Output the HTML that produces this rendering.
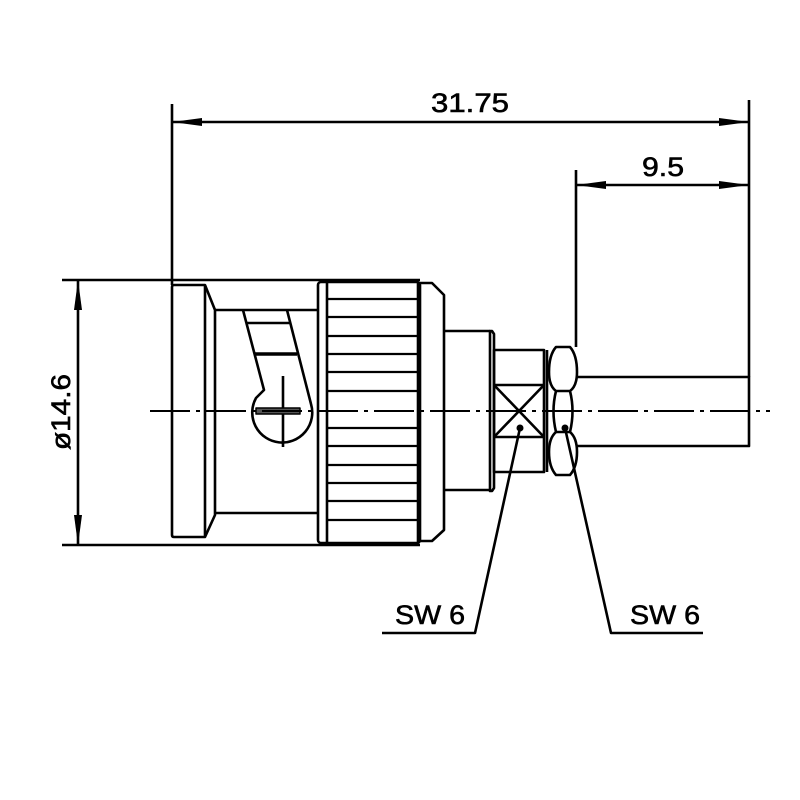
<!DOCTYPE html>
<html><head><meta charset="utf-8"><style>body{margin:0;background:#fff}svg{display:block}</style></head>
<body>
<svg width="800" height="800" viewBox="0 0 800 800" xmlns="http://www.w3.org/2000/svg">
<g stroke="#000" stroke-width="2.6" fill="none" stroke-linejoin="round">
<line x1="172" y1="104" x2="172" y2="285"/>
<line x1="749" y1="100" x2="749" y2="377"/>
<line x1="172" y1="122" x2="749" y2="122"/>
<line x1="576" y1="170" x2="576" y2="347"/>
<line x1="576" y1="185" x2="749" y2="185"/>
<line x1="62" y1="280" x2="420" y2="280"/>
<line x1="62" y1="545" x2="420" y2="545"/>
<line x1="78" y1="280" x2="78" y2="545"/>
<path d="M174 285 H205 L215 310 V515 L205 537 H174 Q172 537 172 535 V287 Q172 285 174 285 Z"/>
<line x1="205" y1="285" x2="205" y2="537"/>
<line x1="215" y1="310" x2="318" y2="310"/>
<line x1="215" y1="513" x2="318" y2="513"/>
<path d="M243 310 L264 390 L256 398 A30 30 0 1 0 311 404 L287 310"/>
<line x1="247" y1="323" x2="290" y2="323"/>
<line x1="255" y1="354" x2="297" y2="354" stroke-width="3.5"/>
<line x1="283" y1="376" x2="283" y2="447"/>
<rect x="256" y="408" width="44" height="6" fill="#555" stroke-width="1.5"/>
<rect x="318" y="282" width="102" height="261" rx="3"/>
<line x1="327" y1="282" x2="327" y2="543"/>
<line x1="418" y1="282" x2="418" y2="543"/>
<path d="M420 283 H432 L444 295 V530 L432 541 H420"/>
</g>
<g stroke="#000" stroke-width="2.3">
<line x1="327" y1="299" x2="418" y2="299"/><line x1="327" y1="317" x2="418" y2="317"/>
<line x1="327" y1="336" x2="418" y2="336"/><line x1="327" y1="354" x2="418" y2="354"/>
<line x1="327" y1="372" x2="418" y2="372"/><line x1="327" y1="391" x2="418" y2="391"/>
<line x1="327" y1="428" x2="418" y2="428"/><line x1="327" y1="446" x2="418" y2="446"/>
<line x1="327" y1="465" x2="418" y2="465"/><line x1="327" y1="483" x2="418" y2="483"/>
<line x1="327" y1="501" x2="418" y2="501"/><line x1="327" y1="520" x2="418" y2="520"/>
</g>
<g stroke="#000" stroke-width="2.6" fill="none" stroke-linejoin="round">
<line x1="444" y1="331" x2="490" y2="331"/>
<line x1="444" y1="490" x2="490" y2="490"/>
<path d="M490 331 H492 L494 334 V488 L492 491 H490 Z"/>
<rect x="494" y="350" width="50" height="122"/>
<line x1="547" y1="350" x2="547" y2="472"/>
<line x1="494" y1="385" x2="544" y2="385"/><line x1="494" y1="437" x2="544" y2="437"/>
<line x1="494" y1="385" x2="544" y2="437"/><line x1="544" y1="385" x2="494" y2="437"/>
<path d="M556 347 H570 Q577 355 577 372 Q577 386 570 391 H556 Q549 386 549 372 Q549 355 556 347 Z"/>
<path d="M556 432 H570 Q577 438 577 452 Q577 467 570 475 H556 Q549 467 549 452 Q549 438 556 432 Z"/>
<path d="M556 391 Q551 411 556 432 M570 391 Q575 411 570 432"/>
<path d="M577 377 H749 V446 H577"/>
<path d="M520 428 L475 633 H382"/>
<path d="M565 428 L611 633 H703"/>
</g>
<circle cx="520" cy="428" r="3.5"/><circle cx="565" cy="428" r="3.5"/>
<line x1="150" y1="411" x2="770" y2="411" stroke="#000" stroke-width="2" stroke-dasharray="40 6 4 6"/>
<polygon points="172,122 202,118 202,126"/><polygon points="749,122 719,118 719,126"/>
<polygon points="576,185 606,181 606,189"/><polygon points="749,185 719,181 719,189"/>
<polygon points="78,280 74,310 82,310"/><polygon points="78,545 74,515 82,515"/>
<g font-family="'Liberation Sans',sans-serif" font-size="27" fill="#000" stroke="#000" stroke-width="0.6">
<text x="470" y="112" text-anchor="middle" textLength="78" lengthAdjust="spacingAndGlyphs">31.75</text>
<text x="663" y="176" text-anchor="middle" textLength="42" lengthAdjust="spacingAndGlyphs">9.5</text>
<text x="395" y="624" textLength="70" lengthAdjust="spacingAndGlyphs">SW 6</text>
<text x="630" y="624" textLength="70" lengthAdjust="spacingAndGlyphs">SW 6</text>
<text transform="translate(70 412) rotate(-90)" text-anchor="middle" textLength="76" lengthAdjust="spacingAndGlyphs">ø14.6</text>
</g>
</svg>
</body></html>
